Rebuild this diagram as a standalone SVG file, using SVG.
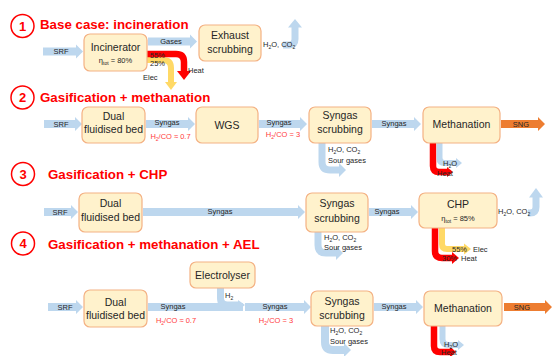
<svg xmlns="http://www.w3.org/2000/svg" width="552" height="356" viewBox="0 0 552 356">
<style>
text{font-family:'Liberation Sans',Arial,sans-serif;fill:#262626}
.box{fill:#FFF2CC;stroke:#F4B183;stroke-width:1.2}
.bt{font-size:10.5px;text-anchor:middle}
.lb{font-size:7.5px}
.mid{text-anchor:middle}
.rl{fill:#FF3B3B;font-size:7.5px;text-anchor:middle}
.title{font-size:13.3px;font-weight:bold;fill:#FF0000}
.num circle{fill:#FFFFFF;stroke:#FF0000;stroke-width:1.5}
.num text{font-size:13px;font-weight:bold;fill:#FF0000;text-anchor:middle}
.fb{fill:#BDD7EE}
.sb{fill:none;stroke:#BDD7EE;stroke-width:7}
.fr{fill:#FF0000}
.sr{fill:none;stroke:#FF0000;stroke-width:6.5}
.fy{fill:#FFD966}
.sy{fill:none;stroke:#FFD966;stroke-width:6}
.fo{fill:#ED7D31}
.sub{font-size:5px}
</style>
<rect width="552" height="356" fill="#FFFFFF"/>

<g id="titles">
  <g class="num"><circle cx="22.5" cy="26" r="11.5"/><text x="22.5" y="30.5">1</text></g>
  <text class="title" x="40" y="29">Base case: incineration</text>
  <g class="num"><circle cx="22.5" cy="97.5" r="11.5"/><text x="22.5" y="102">2</text></g>
  <text class="title" x="40" y="102">Gasification + methanation</text>
  <g class="num"><circle cx="23" cy="174" r="11.5"/><text x="23" y="178.5">3</text></g>
  <text class="title" x="48" y="179">Gasification + CHP</text>
  <g class="num"><circle cx="23" cy="243.5" r="11.5"/><text x="23" y="248">4</text></g>
  <text class="title" x="48" y="249">Gasification + methanation + AEL</text>
</g>

<g id="connectors">
  <!-- Row 1 -->
  <polygon class="fb" points="43,47.5 76,47.5 76,44.5 83,51.5 76,58.5 76,55.5 43,55.5"/>
  <polygon class="fb" points="148,37.5 190,37.5 190,34.5 197,41.5 190,48.5 190,45.5 148,45.5"/>
  <path class="sb" d="M283,45 H289 Q295,45 295,39 V27"/>
  <polygon class="fb" points="288,27.5 302,27.5 295,19"/>
  <path class="sy" d="M147,60 H163 Q171,60 171,68 V83"/>
  <polygon class="fy" points="165,82 177,82 171,90"/>
  <path class="sr" d="M147,54 H176 Q184,54 184,62 V72"/>
  <polygon class="fr" points="177,71 191,71 184,80"/>
  <text class="lb mid" x="61" y="54">SRF</text>
  <text class="lb mid" x="171" y="44">Gases</text>
  <text class="lb" x="150" y="57.5">55%</text>
  <text class="lb" x="150" y="66">25%</text>
  <text class="lb" x="188" y="73">Heat</text>
  <text class="lb" x="143" y="80">Elec</text>
  <text class="lb" x="263" y="47">H<tspan class="sub" dy="1.5">2</tspan><tspan dy="-1.5">O, CO</tspan><tspan class="sub" dy="1.5">2</tspan></text>

  <!-- Row 2 -->
  <polygon class="fb" points="44,120 75,120 75,117 82,124 75,131 75,128 44,128"/>
  <polygon class="fb" points="146,120 188,120 188,117 195,124 188,131 188,128 146,128"/>
  <polygon class="fb" points="259,120 300,120 300,117 307,124 300,131 300,128 259,128"/>
  <polygon class="fb" points="372,120 414,120 414,117 421,124 414,131 414,128 372,128"/>
  <polygon class="fo" points="501,120 538,120 538,117 545,124 538,131 538,128 501,128"/>
  <path class="sb" d="M322,143 V162 Q322,170 330,170 H339"/>
  <polygon class="fb" points="339,163 339,177 346,170"/>
  <path class="sr" d="M433,143 V166 Q433,172 439,172 H447"/>
  <polygon class="fr" points="447,167 447,177 453,172"/>
  <path class="sb" d="M439.5,143 V158 Q439.5,163 444.5,163 H456" style="stroke-width:6"/>
  <polygon class="fb" points="456,158 456,168 462,163"/>
  <text class="lb mid" x="61" y="127">SRF</text>
  <text class="lb mid" x="167" y="125">Syngas</text>
  <text class="rl" x="170.5" y="139">H<tspan class="sub" dy="1.5">2</tspan><tspan dy="-1.5">/CO ≈ 0.7</tspan></text>
  <text class="lb mid" x="279" y="125">Syngas</text>
  <text class="rl" x="283" y="137">H<tspan class="sub" dy="1.5">2</tspan><tspan dy="-1.5">/CO = 3</tspan></text>
  <text class="lb" x="328" y="152">H<tspan class="sub" dy="1.5">2</tspan><tspan dy="-1.5">O, CO</tspan><tspan class="sub" dy="1.5">2</tspan></text>
  <text class="lb" x="328" y="163">Sour gases</text>
  <text class="lb mid" x="394" y="126">Syngas</text>
  <text class="lb mid" x="521" y="127">SNG</text>
  <text class="lb" x="443" y="166">H<tspan class="sub" dy="1.5">2</tspan><tspan dy="-1.5">O</tspan></text>
  <text class="lb" x="437" y="175.5">Heat</text>

  <!-- Row 3 -->
  <polygon class="fb" points="44,208 71,208 71,205 78,212 71,219 71,216 44,216"/>
  <polygon class="fb" points="143,208 298,208 298,205 305,212 298,219 298,216 143,216"/>
  <polygon class="fb" points="369,208 411,208 411,205 418,212 411,219 411,216 369,216"/>
  <path class="sb" d="M318,232 V245 Q318,253 326,253 H336"/>
  <polygon class="fb" points="336,246 336,260 343,253"/>
  <path class="sb" d="M528,213 H530 Q536,213 536,207 V197"/>
  <polygon class="fb" points="529,197.5 543,197.5 536,188"/>
  <path class="sr" d="M435,228 V251 Q435,258 442,258 H452"/>
  <polygon class="fr" points="452,252 452,264 459,258"/>
  <path class="sy" d="M442,228 V244 Q442,249 447,249 H464"/>
  <polygon class="fy" points="464,243.5 464,254.5 471,249"/>
  <text class="lb mid" x="60" y="215">SRF</text>
  <text class="lb mid" x="220" y="214">Syngas</text>
  <text class="lb" x="324" y="240">H<tspan class="sub" dy="1.5">2</tspan><tspan dy="-1.5">O, CO</tspan><tspan class="sub" dy="1.5">2</tspan></text>
  <text class="lb" x="324" y="250">Sour gases</text>
  <text class="lb mid" x="387" y="214">Syngas</text>
  <text class="lb" x="498" y="214">H<tspan class="sub" dy="1.5">2</tspan><tspan dy="-1.5">O, CO</tspan><tspan class="sub" dy="1.5">2</tspan></text>
  <text class="lb" x="452" y="252">55%</text>
  <text class="lb" x="473" y="252">Elec</text>
  <text class="lb" x="442" y="261">30%</text>
  <text class="lb" x="461" y="261">Heat</text>

  <!-- Row 4 -->
  <polygon class="fb" points="48,303 76,303 76,300 83,307 76,314 76,311 48,311"/>
  <rect class="fb" x="148" y="303" width="95" height="8"/>
  <polygon class="fb" points="245,303 304,303 304,300 311,307 304,314 304,311 245,311"/>
  <polygon class="fb" points="374,303 416,303 416,300 423,307 416,314 416,311 374,311"/>
  <polygon class="fo" points="504,303 545,303 545,300 552,307 545,314 545,311 504,311"/>
  <path class="sb" d="M220.5,288 V298 Q220.5,305 227.5,305 H238"/>
  <polygon class="fb" points="238,300 238,310 245,305"/>
  <path class="sb" d="M325,326 V342 Q325,350 333,350 H344" style="stroke-width:8"/>
  <polygon class="fb" points="344,343 344,357 351,350"/>
  <path class="sr" d="M434,326 V346 Q434,352 440,352 H450"/>
  <polygon class="fr" points="450,346.5 450,357.5 456,352"/>
  <path class="sb" d="M442.5,326 V339 Q442.5,345 448.5,345 H458" style="stroke-width:6"/>
  <polygon class="fb" points="458,340 458,350 464,345"/>
  <text class="lb mid" x="65" y="310">SRF</text>
  <text class="lb mid" x="173" y="309">Syngas</text>
  <text class="rl" x="176" y="323">H<tspan class="sub" dy="1.5">2</tspan><tspan dy="-1.5">/CO ≈ 0.7</tspan></text>
  <text class="lb" x="225" y="298">H<tspan class="sub" dy="1.5">2</tspan></text>
  <text class="lb mid" x="275" y="309">Syngas</text>
  <text class="rl" x="276" y="323">H<tspan class="sub" dy="1.5">2</tspan><tspan dy="-1.5">/CO = 3</tspan></text>
  <text class="lb" x="330" y="333">H<tspan class="sub" dy="1.5">2</tspan><tspan dy="-1.5">O, CO</tspan><tspan class="sub" dy="1.5">2</tspan></text>
  <text class="lb" x="330" y="344">Sour gases</text>
  <text class="lb mid" x="394" y="309">Syngas</text>
  <text class="lb mid" x="522" y="310">SNG</text>
  <text class="lb" x="444" y="347">H<tspan class="sub" dy="1.5">2</tspan><tspan dy="-1.5">O</tspan></text>
  <text class="lb" x="441" y="355">Heat</text>
</g>

<g id="incinerator">
  <rect class="box" x="84" y="34" width="63" height="37" rx="6"/>
  <text class="bt" x="115.5" y="51">Incinerator</text>
  <text class="lb mid" x="115.5" y="63">η<tspan class="sub" dy="1.5">tot</tspan><tspan dy="-1.5"> = 80%</tspan></text>
</g>
<g id="exhaust-scrubbing">
  <rect class="box" x="199" y="25" width="62" height="36" rx="6"/>
  <text class="bt" x="230" y="39">Exhaust</text>
  <text class="bt" x="230" y="53">scrubbing</text>
</g>

<g id="dfb-2">
  <rect class="box" x="82" y="107" width="63" height="36" rx="6"/>
  <text class="bt" x="113.5" y="120">Dual</text>
  <text class="bt" x="113.5" y="133">fluidised bed</text>
</g>
<g id="wgs-2">
  <rect class="box" x="196" y="107" width="62" height="36" rx="6"/>
  <text class="bt" x="227" y="129">WGS</text>
</g>
<g id="scrubbing-2">
  <rect class="box" x="309" y="107" width="62" height="36" rx="6"/>
  <text class="bt" x="340" y="119">Syngas</text>
  <text class="bt" x="340" y="133">scrubbing</text>
</g>
<g id="methanation-2">
  <rect class="box" x="423" y="107" width="77" height="36" rx="6"/>
  <text class="bt" x="461.5" y="128">Methanation</text>
</g>

<g id="dfb-3">
  <rect class="box" x="79" y="193" width="63" height="39" rx="6"/>
  <text class="bt" x="110.5" y="207">Dual</text>
  <text class="bt" x="110.5" y="221">fluidised bed</text>
</g>
<g id="scrubbing-3">
  <rect class="box" x="306" y="193" width="62" height="39" rx="6"/>
  <text class="bt" x="337" y="207">Syngas</text>
  <text class="bt" x="337" y="222">scrubbing</text>
</g>
<g id="chp-3">
  <rect class="box" x="419" y="193" width="78" height="35" rx="6"/>
  <text class="bt" x="458" y="208">CHP</text>
  <text class="lb mid" x="458" y="221">η<tspan class="sub" dy="1.5">tot</tspan><tspan dy="-1.5"> = 85%</tspan></text>
</g>

<g id="electrolyser-4">
  <rect class="box" x="190" y="262" width="65" height="26" rx="6"/>
  <text class="bt" x="222.5" y="279">Electrolyser</text>
</g>
<g id="dfb-4">
  <rect class="box" x="84" y="290" width="63" height="37" rx="6"/>
  <text class="bt" x="115.5" y="306">Dual</text>
  <text class="bt" x="115.5" y="319">fluidised bed</text>
</g>
<g id="scrubbing-4">
  <rect class="box" x="311" y="291" width="62" height="35" rx="6"/>
  <text class="bt" x="342" y="305">Syngas</text>
  <text class="bt" x="342" y="319">scrubbing</text>
</g>
<g id="methanation-4">
  <rect class="box" x="424" y="291" width="78" height="35" rx="6"/>
  <text class="bt" x="463" y="312">Methanation</text>
</g>
</svg>
